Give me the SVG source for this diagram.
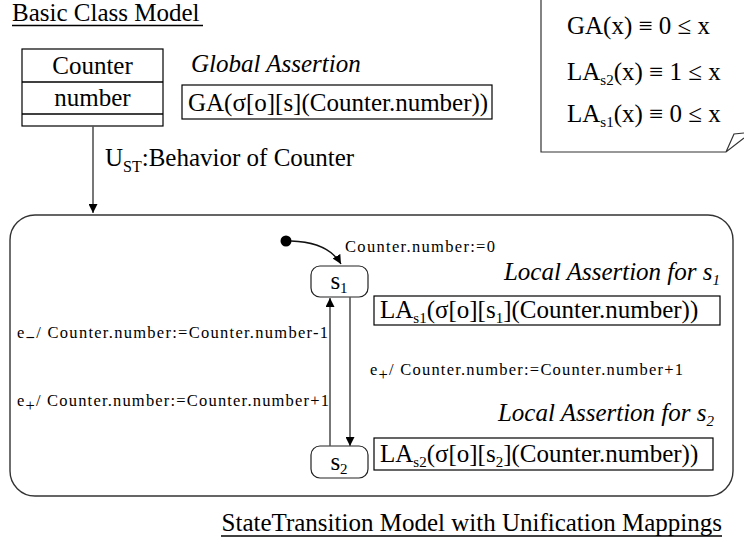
<svg xmlns="http://www.w3.org/2000/svg" width="744" height="550" viewBox="0 0 744 550">
<style>
text{font-family:"Liberation Serif","Times New Roman",serif;fill:#000}
.big{font-size:25px}
.it{font-style:italic}
.sm{font-size:16.5px}
.box{fill:#fff;stroke:#000;stroke-width:1.2}
.st{fill:#fff;stroke:#222;stroke-width:1.2}
.ln{fill:none;stroke:#555;stroke-width:1.6}
.dk{fill:none;stroke:#111;stroke-width:1.4}
.ul{stroke:#000;stroke-width:1.4}
</style>
<defs>
<marker id="ah" viewBox="0 0 10 10" refX="10" refY="5" markerWidth="9" markerHeight="9" markerUnits="userSpaceOnUse" orient="auto">
<path d="M0,0 L10,5 L0,10 z" fill="#000"/>
</marker>
</defs>
<rect width="744" height="550" fill="#fff"/>

<g id="title-basic">
<text class="big" x="12" y="21">Basic Class Model</text>
<line class="ul" x1="12" y1="25.5" x2="203" y2="25.5"/>
</g>

<g id="class-counter">
<rect class="box" x="22" y="49" width="141" height="77"/>
<line class="ul" x1="22" y1="82" x2="163" y2="82" stroke-width="1.2"/>
<line class="ul" x1="22" y1="114" x2="163" y2="114" stroke-width="1.2"/>
<text class="big" x="92.5" y="74" text-anchor="middle" font-size="24">Counter</text>
<text class="big" x="92.5" y="106" text-anchor="middle" font-size="24">number</text>
</g>

<g id="global-assertion">
<text class="big it" x="191" y="72">Global Assertion</text>
<rect class="box" x="182" y="85" width="310" height="34"/>
<text class="big" x="188" y="111">GA(σ[o][s](Counter.number))</text>
</g>

<g id="note">
<path d="M541,-2 V152 H726 L744,138 M726,152 L734,134 L744,133" fill="none" stroke="#333" stroke-width="1.2"/>
<text class="big" x="567" y="34">GA(x) ≡ 0 ≤ x</text>
<text class="big" x="567" y="80">LA<tspan font-size="15" dy="5">s2</tspan><tspan dy="-5">(x) ≡ 1 ≤ x</tspan></text>
<text class="big" x="567" y="122">LA<tspan font-size="15" dy="5">s1</tspan><tspan dy="-5">(x) ≡ 0 ≤ x</tspan></text>
</g>

<g id="mapping-label">
<text class="big" x="105" y="166">U<tspan font-size="16" dy="6">ST</tspan><tspan dy="-6">:Behavior of Counter</tspan></text>
</g>

<g id="state-machine">
<rect x="10" y="215" width="723" height="281" rx="25" fill="none" stroke="#333" stroke-width="1.4"/>
</g>

<g id="initial">
<circle cx="286" cy="241" r="5.5" fill="#000"/>
</g>

<g id="state-s1">
<rect class="st" x="311" y="266" width="57" height="31" rx="9"/>
<text class="big" x="339" y="289" text-anchor="middle" font-size="24">s<tspan font-size="15" dy="4">1</tspan></text>
</g>

<g id="state-s2">
<rect class="st" x="311" y="446" width="57" height="32" rx="9"/>
<text class="big" x="339" y="470" text-anchor="middle" font-size="24">s<tspan font-size="15" dy="4">2</tspan></text>
</g>

<g id="local-assertion-s1">
<text class="big it" x="720" y="280" text-anchor="end">Local Assertion for s<tspan font-size="15" dy="5">1</tspan></text>
<rect class="box" x="374" y="296" width="346" height="29"/>
<text class="big" x="380" y="318">LA<tspan font-size="15" dy="5">s1</tspan><tspan dy="-5">(σ[o][s</tspan><tspan font-size="15" dy="5">1</tspan><tspan dy="-5">](Counter.number))</tspan></text>
</g>

<g id="local-assertion-s2">
<text class="big it" x="714" y="421" text-anchor="end">Local Assertion for s<tspan font-size="15" dy="5">2</tspan></text>
<rect class="box" x="374" y="438" width="339" height="32"/>
<text class="big" x="380" y="462">LA<tspan font-size="15" dy="5">s2</tspan><tspan dy="-5">(σ[o][s</tspan><tspan font-size="15" dy="5">2</tspan><tspan dy="-5">](Counter.number))</tspan></text>
</g>

<g id="connectors">
<path class="ln" d="M93,126 V213" marker-end="url(#ah)"/>
<path class="dk" d="M291,241 Q328,242 341,264" marker-end="url(#ah)"/>
<path class="ln" d="M330,446 V298" marker-end="url(#ah)"/>
<path class="ln" d="M350,297 V446" marker-end="url(#ah)"/>
</g>

<g id="connector-labels">
<text class="sm" x="345" y="252" textLength="150" lengthAdjust="spacing">Counter.number:=0</text>
<text class="sm" x="17" y="338" textLength="311" lengthAdjust="spacing">e<tspan dy="5" font-weight="bold">−</tspan><tspan dy="-5">/ Counter.number:=Counter.number-1</tspan></text>
<text class="sm" x="17" y="406" textLength="312" lengthAdjust="spacing">e<tspan dy="5">+</tspan><tspan dy="-5">/ Counter.number:=Counter.number+1</tspan></text>
<text class="sm" x="370" y="375" textLength="313" lengthAdjust="spacing">e<tspan dy="5">+</tspan><tspan dy="-5">/ Counter.number:=Counter.number+1</tspan></text>
</g>

<g id="title-statetransition">
<text class="big" x="722" y="531" text-anchor="end">StateTransition Model with Unification Mappings</text>
<line class="ul" x1="221" y1="536" x2="722" y2="536"/>
</g>
</svg>
